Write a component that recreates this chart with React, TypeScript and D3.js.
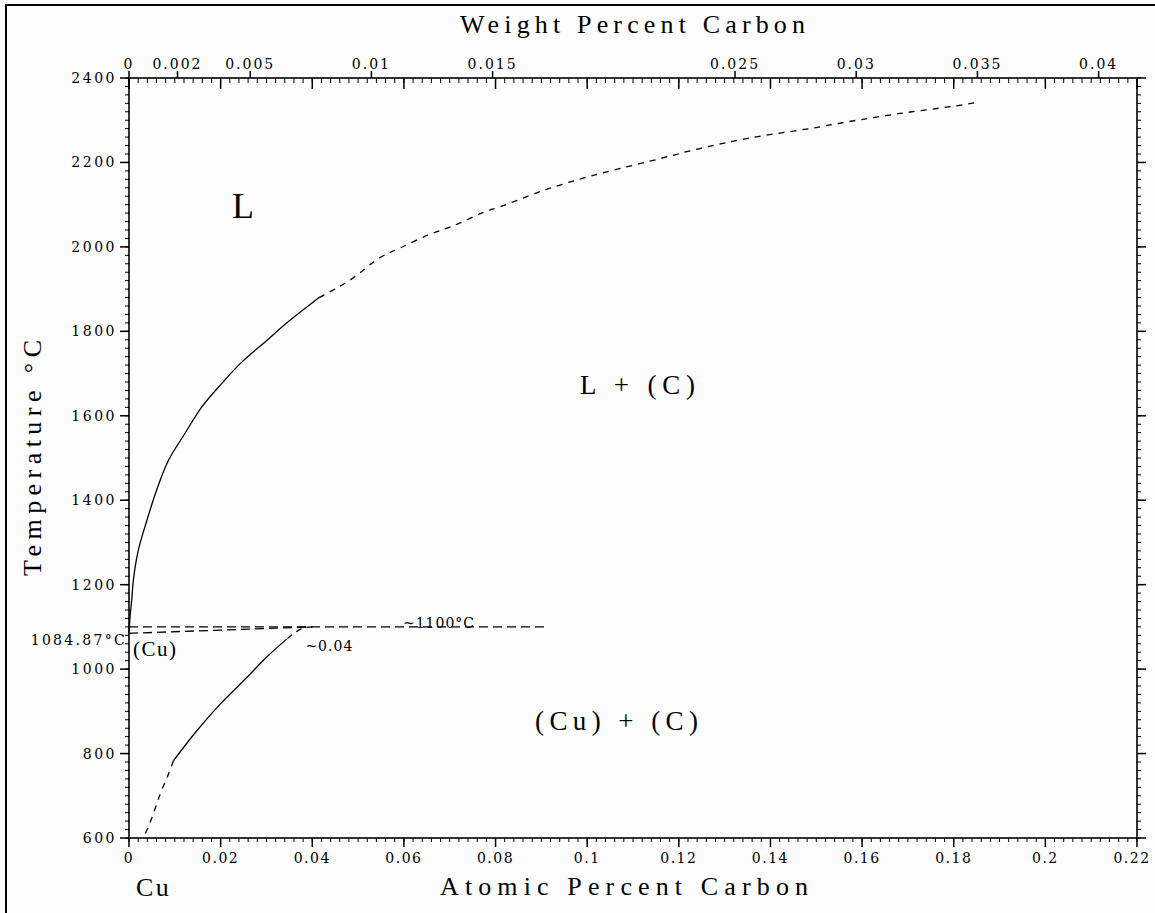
import React from "react";
import * as d3 from "d3";

// ---- data (atomic % C, temperature °C) ----
const liquidusSolid: [number, number][] = [
  [0, 1084.87], [0.0002, 1120], [0.0006, 1165], [0.001, 1215], [0.002, 1280],
  [0.0039, 1352], [0.006, 1423], [0.0086, 1494], [0.0122, 1558], [0.0159, 1621],
  [0.0202, 1676], [0.0246, 1727], [0.0297, 1775], [0.0348, 1823], [0.0415, 1880],
];
const liquidusDashed: [number, number][] = [
  [0.0415, 1880], [0.0482, 1921], [0.0548, 1975], [0.0591, 1997], [0.0657, 2030],
  [0.0708, 2050], [0.0774, 2082], [0.081, 2095], [0.089, 2128], [0.0919, 2139],
  [0.1008, 2168], [0.1137, 2203], [0.1246, 2233], [0.1355, 2258], [0.149, 2281],
  [0.1567, 2296], [0.1683, 2316], [0.1798, 2333], [0.185, 2342],
];
const peritecticLine: [number, number][] = [[0, 1100], [0.0908, 1100]];
const solidusLine: [number, number][] = [[0, 1084.87], [0.04, 1100]];
const solvusTop: [number, number][] = [[0.04, 1100], [0.0377, 1096], [0.0344, 1071]];
const solvusSolid: [number, number][] = [
  [0.0344, 1071], [0.03, 1028], [0.0257, 980], [0.0199, 917], [0.0148, 854], [0.0097, 783],
];
const solvusBottom: [number, number][] = [
  [0.0097, 783], [0.0086, 751], [0.0068, 704], [0.005, 648], [0.0035, 609], [0.003, 600],
];

const atomicTicks = [0, 0.02, 0.04, 0.06, 0.08, 0.1, 0.12, 0.14, 0.16, 0.18, 0.2, 0.22];
const weightTicks = [0, 0.002, 0.005, 0.01, 0.015, 0.025, 0.03, 0.035, 0.04];
const tempTicks = [600, 800, 1000, 1200, 1400, 1600, 1800, 2000, 2200, 2400];

const W = 1155, H = 913;
const LEFT = 129, RIGHT = 1137, TOP = 78, BOTTOM = 838;
const C_TO_CU = 12.011 / 63.546;

const x = d3.scaleLinear().domain([0, 0.22]).range([LEFT, RIGHT]);
const xw = d3.scaleLinear().domain([0, 0.22 * C_TO_CU]).range([LEFT, RIGHT]);
const y = d3.scaleLinear().domain([600, 2400]).range([BOTTOM, TOP]);

const line = d3.line<[number, number]>().x(d => x(d[0])).y(d => y(d[1])).curve(d3.curveCatmullRom.alpha(0.5));
const straight = d3.line<[number, number]>().x(d => x(d[0])).y(d => y(d[1]));

const tickFont = "'DejaVu Serif', serif";
const labelFont = "'Liberation Serif', 'Times New Roman', serif";

const fmt = (v: number) => (v === 0 ? "0" : String(+v.toFixed(3)));

export default function App() {
  const minorX = d3.range(0, 0.2201, 0.002);
  const minorY = d3.range(600, 2400.1, 20);
  return (
    <svg width={W} height={H} style={{ position: "absolute", left: 0, top: 0, background: "#fbfcfb" }}>
      <rect x={0} y={0} width={W} height={H} fill="#fbfcfb" />
      {/* outer frame */}
      <line x1={5} x2={W} y1={5} y2={5} stroke="#000" strokeWidth={2} />
      <line x1={6} x2={6} y1={4} y2={H} stroke="#000" strokeWidth={2} />

      {/* axis frame */}
      <rect x={LEFT} y={TOP} width={RIGHT - LEFT} height={BOTTOM - TOP} fill="none" stroke="#000" strokeWidth={1.6} />

      {/* bottom ticks */}
      {minorX.map((v, i) => (
        <line key={"bm" + i} x1={x(v)} x2={x(v)} y1={BOTTOM} y2={BOTTOM + 4} stroke="#000" strokeWidth={1} />
      ))}
      {atomicTicks.map((v, i) => (
        <g key={"b" + v}>
          <line x1={x(v)} x2={x(v)} y1={BOTTOM} y2={BOTTOM + 9} stroke="#000" strokeWidth={1.5} />
          <text x={x(v)} dx={i === atomicTicks.length - 1 ? -5 : 0} y={BOTTOM + 25} textAnchor="middle" fontFamily={tickFont} fontSize={14} letterSpacing={1.5}>{fmt(v)}</text>
        </g>
      ))}
      {/* top atomic ticks (inward) */}
      {minorX.map((v, i) => (
        <line key={"tm" + i} x1={x(v)} x2={x(v)} y1={TOP} y2={TOP + 5} stroke="#000" strokeWidth={1} />
      ))}
      {atomicTicks.map(v => (
        <line key={"t" + v} x1={x(v)} x2={x(v)} y1={TOP} y2={TOP + 11} stroke="#000" strokeWidth={1.5} />
      ))}
      {/* top weight ticks (outward) */}
      {weightTicks.map(v => (
        <g key={"w" + v}>
          <line x1={xw(v)} x2={xw(v)} y1={TOP} y2={TOP - 7} stroke="#000" strokeWidth={1.5} />
          <text x={xw(v)} y={TOP - 9} textAnchor="middle" fontFamily={tickFont} fontSize={14} letterSpacing={2}>{fmt(v)}</text>
        </g>
      ))}
      {/* left / right ticks */}
      {minorY.map((v, i) => (
        <g key={"ym" + i}>
          <line x1={LEFT} x2={LEFT - 4} y1={y(v)} y2={y(v)} stroke="#000" strokeWidth={1} />
          <line x1={RIGHT} x2={RIGHT + 4} y1={y(v)} y2={y(v)} stroke="#000" strokeWidth={1} />
        </g>
      ))}
      {tempTicks.map(v => (
        <g key={"y" + v}>
          <line x1={LEFT} x2={LEFT - 9} y1={y(v)} y2={y(v)} stroke="#000" strokeWidth={1.5} />
          <line x1={RIGHT} x2={RIGHT + 9} y1={y(v)} y2={y(v)} stroke="#000" strokeWidth={1.5} />
          <text x={LEFT - 12} y={y(v) + 5} textAnchor="end" fontFamily={tickFont} fontSize={14} letterSpacing={2.5}>{v}</text>
        </g>
      ))}

      {/* axis titles */}
      <text x={460} y={33} fontFamily={labelFont} fontSize={26} textLength={345} lengthAdjust="spacing">Weight Percent Carbon</text>
      <text x={440} y={895} fontFamily={labelFont} fontSize={26} textLength={368} lengthAdjust="spacing">Atomic Percent Carbon</text>
      <text transform="translate(41,576) rotate(-90)" x={0} y={0} fontFamily={labelFont} fontSize={26} textLength={236} lengthAdjust="spacing">Temperature °C</text>
      <text x={136} y={896} fontFamily={labelFont} fontSize={26} letterSpacing={2.5}>Cu</text>

      {/* phase boundaries */}
      <path d={line(liquidusSolid) || ""} fill="none" stroke="#000" strokeWidth={1.3} />
      <path d={line(liquidusDashed) || ""} fill="none" stroke="#000" strokeWidth={1.3} strokeDasharray="6,6" />
      <path d={straight(peritecticLine) || ""} fill="none" stroke="#000" strokeWidth={1.3} strokeDasharray="9,5" />
      <path d={straight(solidusLine) || ""} fill="none" stroke="#000" strokeWidth={1.3} strokeDasharray="9,5" />
      <path d={line(solvusTop) || ""} fill="none" stroke="#000" strokeWidth={1.3} strokeDasharray="6,5" />
      <path d={line(solvusSolid) || ""} fill="none" stroke="#000" strokeWidth={1.3} />
      <path d={line(solvusBottom) || ""} fill="none" stroke="#000" strokeWidth={1.3} strokeDasharray="6,6" />

      {/* annotations */}
      <text x={LEFT - 2} y={y(1084.87) + 12} textAnchor="end" fontFamily={tickFont} fontSize={14} letterSpacing={2.3}>1084.87°C</text>
      <text x={133} y={y(1084.87) + 23} fontFamily={labelFont} fontSize={21} letterSpacing={1.5}>(Cu)</text>
      <text x={x(0.0385)} y={y(1100) + 24} fontFamily={tickFont} fontSize={14} letterSpacing={1}>~0.04</text>
      <text x={x(0.0598)} y={y(1100) + 1} fontFamily={tickFont} fontSize={14} letterSpacing={1}>~1100°C</text>
      <text x={232} y={218} fontFamily={labelFont} fontSize={36}>L</text>
      <text x={580} y={394} fontFamily={labelFont} fontSize={27} textLength={115} lengthAdjust="spacing">L + (C)</text>
      <text x={535} y={730} fontFamily={labelFont} fontSize={27} textLength={163} lengthAdjust="spacing">(Cu) + (C)</text>
    </svg>
  );
}
